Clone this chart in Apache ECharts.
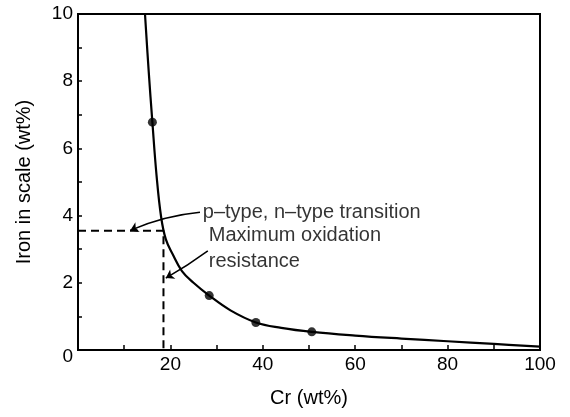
<!DOCTYPE html>
<html><head><meta charset="utf-8">
<script src="https://cdn.jsdelivr.net/npm/echarts@6/dist/echarts.min.js"></script>
<style>html,body{margin:0;padding:0;background:#fff}#c{width:570px;height:417px}</style>
</head><body><div id="c"></div>
<script>
// Smooth curve through the data (Cr wt% vs Fe in scale wt%)
const curveX = [14.5, 15.3, 16.1, 17.0, 18.0, 19.0, 20.5, 22.5, 25.0, 28.4, 33.0, 38.5, 44.0, 50.6, 60.0, 70.0, 80.0, 90.0, 100.0];
const curveY = [10.0, 8.3, 6.78, 5.2, 3.95, 3.3, 2.85, 2.35, 2.0, 1.62, 1.18, 0.82, 0.66, 0.54, 0.43, 0.34, 0.26, 0.18, 0.10];
// Measured points (filled circles)
const pointX = [16.1, 28.4, 38.5, 50.6];
const pointY = [6.78, 1.62, 0.82, 0.54];
// Dashed guide lines
const guideX = [0, 18.5, 18.5];
const guideY = [3.55, 3.55, 0];
// Tick labels
const xTickLabels = ['20', '40', '60', '80', '100'];
const yTickLabels = ['0', '2', '4', '6', '8', '10'];
// Annotations
const noteTexts = ['p\u2013type, n\u2013type transition', 'Maximum oxidation\nresistance'];
const noteX = [26.8, 28.1];
const noteY = [4.1, 3.02];
const arrowFromX = [26.4, 28.1];
const arrowFromY = [4.1, 2.95];
const arrowToX = [11.3, 19.0];
const arrowToY = [3.56, 2.14];
const arrowCurve = [-0.08, 0.03];

const FONT = '"Liberation Sans", Arial, Helvetica, sans-serif';
const chart = echarts.init(document.getElementById('c'), null, {renderer: 'canvas'});

const curveData = curveX.map((x, i) => [x, curveY[i]]);
const pointData = pointX.map((x, i) => [x, pointY[i]]);
const guideData = guideX.map((x, i) => [x, guideY[i]]);
const noteData = noteX.map((x, i) => [x, noteY[i], noteTexts[i]]);
const arrowData = arrowFromX.map((x, i) => ({
  coords: [[x, arrowFromY[i]], [arrowToX[i], arrowToY[i]]],
  lineStyle: {curveness: arrowCurve[i]}
}));

chart.setOption({
  animation: false,
  backgroundColor: '#fff',
  grid: {left: 78, right: 30, top: 14, bottom: 67, show: true, borderColor: '#000', borderWidth: 2},
  xAxis: {
    type: 'value', min: 0, max: 100, interval: 10,
    name: 'Cr (wt%)', nameLocation: 'middle', nameGap: 38,
    nameTextStyle: {fontFamily: FONT, fontSize: 20, color: '#000'},
    axisLine: {show: true, lineStyle: {color: '#000', width: 2}},
    axisTick: {show: true, inside: true, length: 5, lineStyle: {color: '#000', width: 1.5}},
    axisLabel: {
      color: '#000', fontFamily: FONT, fontSize: 19, margin: 5,
      formatter: v => xTickLabels.includes(String(v)) ? String(v) : ''
    },
    splitLine: {show: false}
  },
  yAxis: {
    type: 'value', min: 0, max: 10, interval: 1,
    name: 'Iron in scale (wt%)', nameLocation: 'middle', nameGap: 44,
    nameTextStyle: {fontFamily: FONT, fontSize: 20, color: '#000'},
    axisLine: {show: true, lineStyle: {color: '#000', width: 2}},
    axisTick: {show: true, inside: true, length: 4, lineStyle: {color: '#000', width: 1.5}},
    axisLabel: {
      color: '#000', fontFamily: FONT, fontSize: 19, margin: 5,
      formatter: v => {
        const s = String(v);
        if (!yTickLabels.includes(s)) return '';
        return s === '0' ? '{z|0}' : s;
      },
      rich: {z: {fontFamily: FONT, fontSize: 19, color: '#000', padding: [14, 0, 0, 0]}}
    },
    splitLine: {show: false}
  },
  series: [
    {
      type: 'line', data: guideData, showSymbol: false, symbol: 'none',
      lineStyle: {color: '#000', width: 2, type: [8, 5]}, z: 2
    },
    {
      type: 'line', data: curveData, showSymbol: false, symbol: 'none',
      smooth: 0.4,
      lineStyle: {color: '#000', width: 2.2}, z: 3
    },
    {
      type: 'scatter', data: pointData, symbol: 'circle', symbolSize: 9,
      itemStyle: {color: '#000'}, z: 4
    },
    {
      type: 'lines', coordinateSystem: 'cartesian2d', polyline: false,
      symbol: ['none', 'arrow'], symbolSize: 8,
      lineStyle: {color: '#000', width: 1.5, opacity: 1},
      data: arrowData, z: 5
    },
    {
      type: 'scatter', data: noteData, symbolSize: 0.01,
      itemStyle: {color: 'rgba(0,0,0,0)'},
      label: {
        show: true, position: 'right', distance: 1,
        formatter: p => p.value[2],
        color: '#000', fontFamily: FONT, fontSize: 20, lineHeight: 26, align: 'left'
      },
      z: 6
    }
  ]
});
</script>
</body></html>
